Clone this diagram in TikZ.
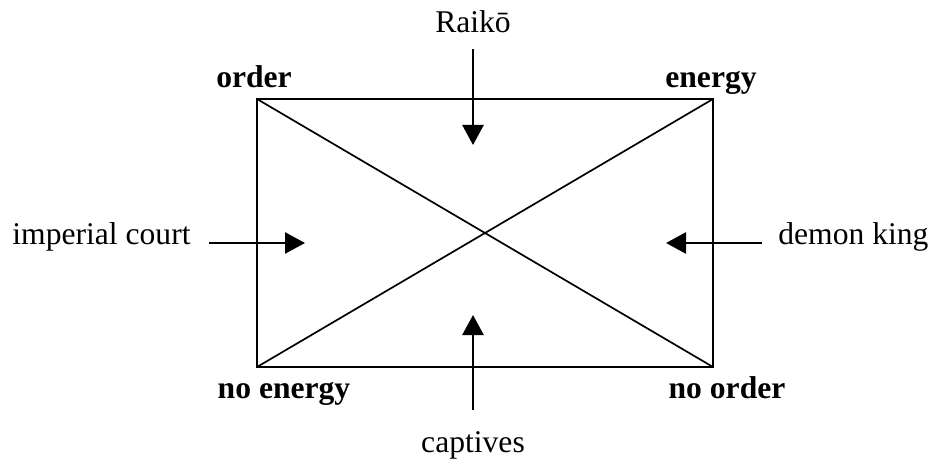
\documentclass[tikz,border=0pt]{standalone}
\usepackage{fontspec}
\setmainfont{Liberation Serif}
\usetikzlibrary{arrows.meta}
\begin{document}
\begin{tikzpicture}[x=0.5pt, y=-0.5pt,
    lbl/.style={font=\fontsize{15.8}{19}\selectfont, inner sep=0pt},
    corner/.style={lbl, font=\fontsize{15.8}{19}\selectfont\bfseries},
    arr/.style={line width=1.3pt, -{Triangle[length=10pt, width=10.5pt]}}]
  \useasboundingbox (0,0) rectangle (930,464);
  % corners of the box
  \coordinate (ord)  at (257,99);
  \coordinate (en)   at (713,99);
  \coordinate (noen) at (257,367);
  \coordinate (noor) at (713,367);
  \draw[line width=0.85pt] (ord) rectangle (noor);
  \draw[line width=0.85pt] (ord) -- (noor) (noen) -- (en);
  \node[corner, anchor=base] (lord)  at (254,88)  {order};
  \node[corner, anchor=base] (len)   at (711,88)  {energy};
  \node[corner, anchor=base] (lnoen) at (284,398) {no energy};
  \node[corner, anchor=base] (lnoor) at (727,398) {no order};
  % the four forces
  \node[lbl, anchor=base] (raiko) at (473,33) {Raikō};
  \node[lbl, anchor=base west] (court) at (12,245) {imperial court};
  \node[lbl, anchor=base west] (demon) at (778,245) {demon king};
  \node[lbl, anchor=base] (capt) at (473,452) {captives};
  \coordinate (rks) at (473,49);  \coordinate (rkt) at (473,145);
  \coordinate (cts) at (209,243); \coordinate (ctt) at (305,243);
  \coordinate (dks) at (762,243); \coordinate (dkt) at (666,243);
  \coordinate (cps) at (473,410); \coordinate (cpt) at (473,315);
  \foreach \a/\b in {rks/rkt, cts/ctt, dks/dkt, cps/cpt}
    \draw[arr] (\a) -- (\b);
\end{tikzpicture}
\end{document}
